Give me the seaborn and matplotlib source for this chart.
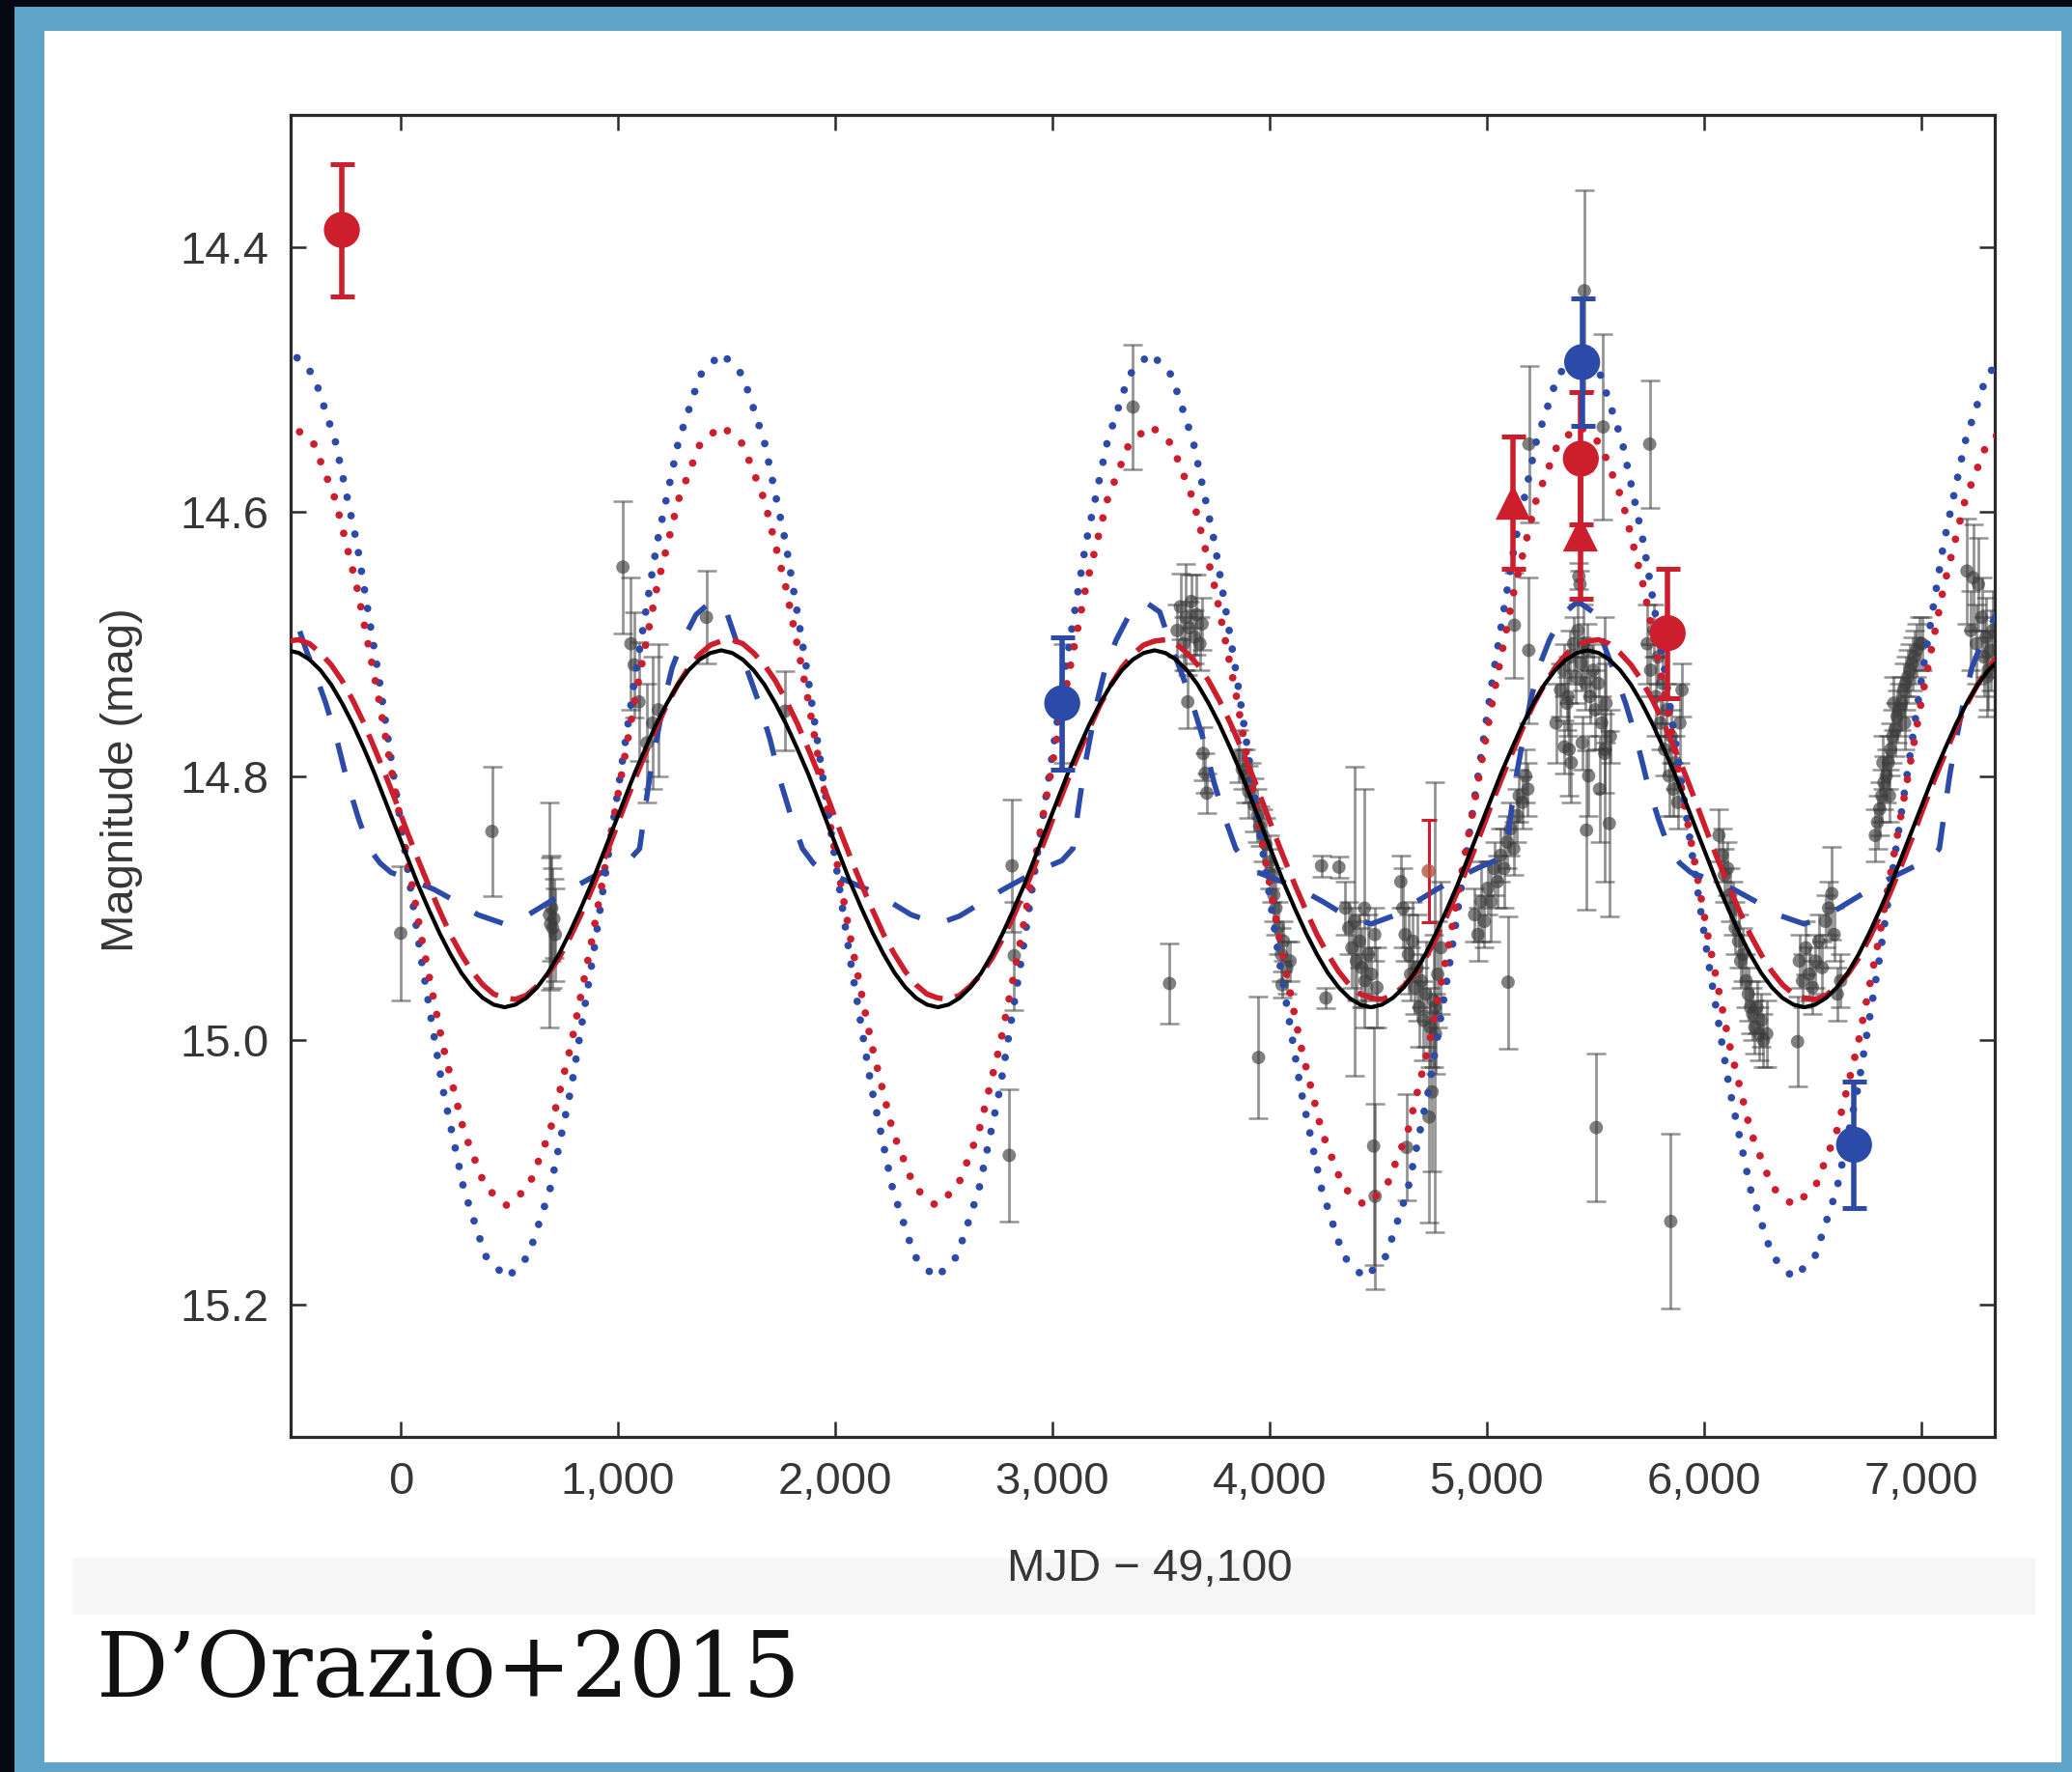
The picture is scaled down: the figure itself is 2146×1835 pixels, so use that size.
import matplotlib
matplotlib.use("Agg")
import matplotlib.pyplot as plt
from matplotlib.patches import Rectangle
import pandas as pd
import seaborn as sns

# ---------------- data ----------------
# sinusoidal fit (black solid) and red dashed model, main sampling days
sin_days = [-520, -420, -320, -220, -121, -21, 79, 179, 279, 378,
            478, 578, 678, 777, 877, 977, 1077, 1176, 1276, 1376,
            1476, 1575, 1675, 1775, 1875, 1974, 2074, 2174, 2274, 2373,
            2473, 2573, 2673, 2772, 2872, 2972, 3072, 3171, 3271, 3371,
            3471, 3570, 3670, 3770, 3870, 3969, 4069, 4169, 4269, 4368,
            4468, 4568, 4668, 4767, 4867, 4967, 5067, 5166, 5266, 5366,
            5466, 5565, 5665, 5765, 5865, 5964, 6064, 6164, 6264, 6363,
            6463, 6563, 6663, 6762, 6862, 6962, 7062, 7161, 7261, 7361]
black_fit = [14.705, 14.712, 14.731, 14.761, 14.798, 14.840, 14.882, 14.919, 14.949, 14.968,
             14.975, 14.968, 14.949, 14.919, 14.882, 14.840, 14.798, 14.761, 14.731, 14.712,
             14.705, 14.712, 14.731, 14.761, 14.798, 14.840, 14.882, 14.919, 14.949, 14.968,
             14.975, 14.968, 14.949, 14.919, 14.882, 14.840, 14.798, 14.761, 14.731, 14.712,
             14.705, 14.712, 14.731, 14.761, 14.798, 14.840, 14.882, 14.919, 14.949, 14.968,
             14.975, 14.968, 14.949, 14.919, 14.882, 14.840, 14.798, 14.761, 14.731, 14.712,
             14.705, 14.712, 14.731, 14.761, 14.798, 14.840, 14.882, 14.919, 14.949, 14.968,
             14.975, 14.968, 14.949, 14.919, 14.882, 14.840, 14.798, 14.761, 14.731, 14.712]
red_dashed = [14.698, 14.700, 14.716, 14.743, 14.779, 14.820, 14.863, 14.902, 14.935, 14.958,
              14.968, 14.966, 14.950, 14.923, 14.887, 14.846, 14.803, 14.764, 14.731, 14.708,
              14.698, 14.700, 14.716, 14.743, 14.779, 14.820, 14.863, 14.902, 14.935, 14.958,
              14.968, 14.966, 14.950, 14.923, 14.887, 14.846, 14.803, 14.764, 14.731, 14.708,
              14.698, 14.700, 14.716, 14.743, 14.779, 14.820, 14.863, 14.902, 14.935, 14.958,
              14.968, 14.966, 14.950, 14.923, 14.887, 14.846, 14.803, 14.764, 14.731, 14.708,
              14.698, 14.700, 14.716, 14.743, 14.779, 14.820, 14.863, 14.902, 14.935, 14.958,
              14.968, 14.966, 14.950, 14.923, 14.887, 14.846, 14.803, 14.764, 14.731, 14.708]
# extra readings between the main sampling days
sin_mid_days = [-469, -370, -270, -170, -71, 29, 129, 229, 329, 428,
                528, 628, 728, 827, 927, 1027, 1127, 1226, 1326, 1426,
                1526, 1625, 1725, 1825, 1925, 2024, 2124, 2224, 2324, 2423,
                2523, 2623, 2723, 2822, 2922, 3022, 3122, 3221, 3321, 3421,
                3521, 3620, 3720, 3820, 3920, 4019, 4119, 4219, 4319, 4418,
                4518, 4618, 4718, 4817, 4917, 5017, 5117, 5216, 5316, 5416,
                5516, 5615, 5715, 5815, 5915, 6014, 6114, 6214, 6314, 6413,
                6513, 6613, 6713, 6812, 6912, 7012, 7112, 7211, 7311, 7411]
black_fit_mid = [14.707, 14.720, 14.745, 14.779, 14.819, 14.861, 14.901, 14.935, 14.960, 14.973,
                 14.973, 14.960, 14.935, 14.901, 14.861, 14.819, 14.779, 14.745, 14.720, 14.707,
                 14.707, 14.720, 14.745, 14.779, 14.819, 14.861, 14.901, 14.935, 14.960, 14.973,
                 14.973, 14.960, 14.935, 14.901, 14.861, 14.819, 14.779, 14.745, 14.720, 14.707,
                 14.707, 14.720, 14.745, 14.779, 14.819, 14.861, 14.901, 14.935, 14.960, 14.973,
                 14.973, 14.960, 14.935, 14.901, 14.861, 14.819, 14.779, 14.745, 14.720, 14.707,
                 14.707, 14.720, 14.745, 14.779, 14.819, 14.861, 14.901, 14.935, 14.960, 14.973,
                 14.973, 14.960, 14.935, 14.901, 14.861, 14.819, 14.779, 14.745, 14.720, 14.707]
red_dashed_mid = [14.697, 14.707, 14.728, 14.760, 14.799, 14.842, 14.883, 14.920, 14.948, 14.965,
                  14.969, 14.959, 14.938, 14.906, 14.867, 14.824, 14.783, 14.746, 14.718, 14.701,
                  14.697, 14.707, 14.728, 14.760, 14.799, 14.842, 14.883, 14.920, 14.948, 14.965,
                  14.969, 14.959, 14.938, 14.906, 14.867, 14.824, 14.783, 14.746, 14.718, 14.701,
                  14.697, 14.707, 14.728, 14.760, 14.799, 14.842, 14.883, 14.920, 14.948, 14.965,
                  14.969, 14.959, 14.938, 14.906, 14.867, 14.824, 14.783, 14.746, 14.718, 14.701,
                  14.697, 14.707, 14.728, 14.760, 14.799, 14.842, 14.883, 14.920, 14.948, 14.965,
                  14.969, 14.959, 14.938, 14.906, 14.867, 14.824, 14.783, 14.746, 14.718, 14.701]

# blue dashed (hydro model)
blue_dash_days = [-635, -565, -495, -435, -395, -345, -295, -245, -195, -145, -95, -45, 55, 155, 255, 355,
                  478, 578, 678, 778, 878, 978, 1050, 1100, 1125, 1150, 1175, 1210, 1250, 1300, 1360,
                  1430, 1500, 1560, 1600, 1650, 1700, 1750, 1800, 1850, 1900, 1950, 2050, 2150, 2250, 2350,
                  2473, 2573, 2673, 2773, 2873, 2973, 3045, 3095, 3120, 3145, 3170, 3205, 3245, 3295, 3355,
                  3425, 3495, 3555, 3595, 3645, 3695, 3745, 3795, 3845, 3895, 3945, 4045, 4145, 4245, 4345,
                  4468, 4568, 4668, 4768, 4868, 4968, 5040, 5090, 5115, 5140, 5165, 5200, 5240, 5290, 5350,
                  5420, 5490, 5550, 5590, 5640, 5690, 5740, 5790, 5840, 5890, 5940, 6040, 6140, 6240, 6340,
                  6463, 6563, 6663, 6763, 6863, 6963, 7035, 7085, 7110, 7135, 7160, 7195, 7235, 7285, 7345,
                  7415]
blue_dashed = [14.678, 14.668, 14.676, 14.705, 14.722, 14.745, 14.772, 14.805, 14.832, 14.855, 14.866, 14.873, 14.879, 14.886, 14.895, 14.905,
               14.912, 14.906, 14.896, 14.886, 14.877, 14.869, 14.864, 14.855, 14.825, 14.797, 14.775, 14.745, 14.718, 14.697, 14.678,
               14.668, 14.676, 14.705, 14.722, 14.745, 14.772, 14.805, 14.832, 14.855, 14.866, 14.873, 14.879, 14.886, 14.895, 14.905,
               14.912, 14.906, 14.896, 14.886, 14.877, 14.869, 14.864, 14.855, 14.825, 14.797, 14.775, 14.745, 14.718, 14.697, 14.678,
               14.668, 14.676, 14.705, 14.722, 14.745, 14.772, 14.805, 14.832, 14.855, 14.866, 14.873, 14.879, 14.886, 14.895, 14.905,
               14.912, 14.906, 14.896, 14.886, 14.877, 14.869, 14.864, 14.855, 14.825, 14.797, 14.775, 14.745, 14.718, 14.697, 14.678,
               14.668, 14.676, 14.705, 14.722, 14.745, 14.772, 14.805, 14.832, 14.855, 14.866, 14.873, 14.879, 14.886, 14.895, 14.905,
               14.912, 14.906, 14.896, 14.886, 14.877, 14.869, 14.864, 14.855, 14.825, 14.797, 14.775, 14.745, 14.718, 14.697, 14.678,
               14.668]

# dotted Doppler-boost models
dot_days = [-597, -499, -400, -301, -202, -104, -5, 94, 193, 291, 390,
            489, 588, 687, 785, 884, 983, 1082, 1180, 1279, 1378, 1477, 1575, 1674, 1773, 1872, 1970, 2069, 2168, 2266, 2365,
            2464, 2563, 2662, 2760, 2859, 2958, 3057, 3155, 3254, 3353, 3452, 3550, 3649, 3748, 3847, 3945, 4044, 4143, 4241, 4340,
            4439, 4538, 4637, 4735, 4834, 4933, 5032, 5130, 5229, 5328, 5427, 5525, 5624, 5723, 5822, 5920, 6019, 6118, 6216, 6315,
            6414, 6513, 6612, 6710, 6809, 6908, 7007, 7105, 7204, 7303, 7402]
blue_dotted = [14.497, 14.480, 14.497, 14.547, 14.624, 14.722, 14.830, 14.938, 15.036, 15.113, 15.163,
               15.180, 15.163, 15.113, 15.036, 14.938, 14.830, 14.722, 14.624, 14.547, 14.497, 14.480, 14.497, 14.547, 14.624, 14.722, 14.830, 14.938, 15.036, 15.113, 15.163,
               15.180, 15.163, 15.113, 15.036, 14.938, 14.830, 14.722, 14.624, 14.547, 14.497, 14.480, 14.497, 14.547, 14.624, 14.722, 14.830, 14.938, 15.036, 15.113, 15.163,
               15.180, 15.163, 15.113, 15.036, 14.938, 14.830, 14.722, 14.624, 14.547, 14.497, 14.480, 14.497, 14.547, 14.624, 14.722, 14.830, 14.938, 15.036, 15.113, 15.163,
               15.180, 15.163, 15.113, 15.036, 14.938, 14.830, 14.722, 14.624, 14.547, 14.497, 14.480]
red_dotted = [14.549, 14.535, 14.549, 14.591, 14.657, 14.739, 14.830, 14.921, 15.003, 15.069, 15.111,
              15.125, 15.111, 15.069, 15.003, 14.921, 14.830, 14.739, 14.657, 14.591, 14.549, 14.535, 14.549, 14.591, 14.657, 14.739, 14.830, 14.921, 15.003, 15.069, 15.111,
              15.125, 15.111, 15.069, 15.003, 14.921, 14.830, 14.739, 14.657, 14.591, 14.549, 14.535, 14.549, 14.591, 14.657, 14.739, 14.830, 14.921, 15.003, 15.069, 15.111,
              15.125, 15.111, 15.069, 15.003, 14.921, 14.830, 14.739, 14.657, 14.591, 14.549, 14.535, 14.549, 14.591, 14.657, 14.739, 14.830, 14.921, 15.003, 15.069, 15.111,
              15.125, 15.111, 15.069, 15.003, 14.921, 14.830, 14.739, 14.657, 14.591, 14.549, 14.535]

# grey photometry
gray_days = [0, 420, 685, 690, 695, 700, 705, 712,
             1023, 1060, 1075, 1097, 1134, 1160, 1186, 1408, 1770,
             2802, 2815, 2825, 3050, 3372, 3540,
             3575, 3590, 3605, 3615, 3630, 3640, 3655, 3665, 3680, 3690, 3624, 3695, 3705, 3712,
             3860, 3875, 3890, 3905, 3915, 3930, 3945, 3955, 3970, 3985, 4000, 4010, 4020, 4030, 4040, 4055, 4065, 4080, 4095,
             3950, 4058, 4240, 4320, 4260,
             4350, 4365, 4380, 4393, 4400, 4415, 4425, 4438, 4440, 4455, 4470, 4485, 4495, 4480, 4487,
             4605, 4615, 4625, 4632, 4640, 4650, 4660, 4670, 4680, 4690, 4700, 4710, 4720, 4735, 4740, 4749, 4755, 4765, 4775, 4790, 4763,
             4945, 4960, 4975, 4990, 5005, 5020, 5035, 5050, 5065, 5080, 5095, 5110, 5125, 5140, 5150, 5165, 5180, 5190,
             5099, 5128, 5195, 5194,
             5380, 5358, 5375, 5425, 5430, 5450, 5460, 5505, 5537, 5545, 5565, 5544,
             5320, 5340, 5355, 5370, 5385, 5400, 5410, 5420, 5435, 5445, 5455, 5465, 5475, 5490, 5500, 5515, 5530, 5550, 5570,
             5390, 5470, 5520, 5440, 5751,
             5740, 5755, 5770, 5780, 5790, 5800, 5810, 5820, 5830, 5840, 5850, 5860, 5870, 5880, 5890, 5900, 5848,
             6070, 6085, 6095, 6110, 6120, 6135, 6145, 6160, 6170, 6180, 6195, 6205, 6215, 6225, 6235, 6245, 6255, 6265, 6275, 6290,
             6432, 6440, 6455, 6470, 6485, 6500, 6515, 6530, 6545, 6560, 6575, 6590, 6600, 6615, 6630,
             6790, 6800, 6810, 6820, 6830, 6840, 6850, 6860, 6870, 6880, 6890, 6900, 6910, 6920, 6930, 6940, 6950, 6960, 6970, 6980, 6995, 7005,
             6825, 6875, 6925, 6855,
             7212, 7240, 7265, 7230, 7255, 7280, 7290, 7300, 7310, 7320, 7330, 7305]
gray_mag = [14.919, 14.842, 14.905, 14.912, 14.900, 14.915, 14.908, 14.920,
            14.642, 14.700, 14.716, 14.744, 14.775, 14.760, 14.750, 14.680, 14.751,
            15.087, 14.868, 14.936, 14.745, 14.521, 14.957,
            14.690, 14.672, 14.700, 14.680, 14.688, 14.668, 14.695, 14.678, 14.700, 14.685, 14.744, 14.783, 14.798, 14.813,
            14.785, 14.795, 14.800, 14.812, 14.805, 14.822, 14.830, 14.838, 14.845, 14.852, 14.865, 14.875, 14.890, 14.900, 14.915, 14.935, 14.925, 14.945, 14.940,
            15.013, 14.958, 14.868, 14.869, 14.968,
            14.900, 14.915, 14.930, 14.910, 14.940, 14.925, 14.945, 14.900, 14.955, 14.935, 14.950, 14.920, 14.960, 15.080, 15.118,
            14.880, 14.900, 14.920, 15.081, 14.935, 14.950, 14.925, 14.960, 14.945, 14.975, 14.955, 14.985, 14.965, 15.058, 14.990, 15.039, 14.970, 14.995, 14.950, 14.930, 14.975,
            14.905, 14.920, 14.895, 14.910, 14.885, 14.895, 14.870, 14.880, 14.860, 14.870, 14.850, 14.840, 14.855, 14.830, 14.815, 14.820, 14.800, 14.810,
            14.956, 14.686, 14.549, 14.705,
            14.780, 14.778, 14.740, 14.649, 14.655, 14.433, 14.841, 15.066, 14.536, 14.780, 14.836, 14.783,
            14.760, 14.735, 14.720, 14.745, 14.710, 14.700, 14.725, 14.690, 14.715, 14.700, 14.730, 14.705, 14.740, 14.720, 14.750, 14.730, 14.760, 14.745, 14.770,
            14.790, 14.800, 14.810, 14.775, 14.549,
            14.700, 14.720, 14.690, 14.740, 14.710, 14.760, 14.730, 14.780, 14.750, 14.800, 14.770, 14.810, 14.790, 14.820, 14.760, 14.735, 15.137,
            14.845, 14.860, 14.875, 14.870, 14.890, 14.900, 14.915, 14.925, 14.940, 14.935, 14.955, 14.965, 14.975, 14.980, 14.990, 14.975, 14.995, 14.985, 15.000, 14.995,
            15.001, 14.940, 14.955, 14.930, 14.950, 14.960, 14.940, 14.925, 14.945, 14.910, 14.900, 14.889, 14.920, 14.965, 14.955,
            14.845, 14.835, 14.825, 14.815, 14.805, 14.800, 14.790, 14.780, 14.770, 14.765, 14.755, 14.750, 14.745, 14.735, 14.730, 14.725, 14.720, 14.715, 14.710, 14.705, 14.700, 14.700,
            14.790, 14.745, 14.760, 14.815,
            14.645, 14.650, 14.655, 14.690, 14.700, 14.680, 14.710, 14.695, 14.720, 14.705, 14.690, 14.725]
gray_err = [0.051, 0.049, 0.085, 0.050, 0.040, 0.045, 0.030, 0.035,
            0.050, 0.050, 0.040, 0.045, 0.045, 0.050, 0.050, 0.035, 0.030,
            0.050, 0.050, 0.041, 0.045, 0.047, 0.030,
            0.020, 0.025, 0.020, 0.040, 0.020, 0.020, 0.020, 0.030, 0.020, 0.020, 0.020, 0.020, 0.015, 0.015,
            0.020, 0.015, 0.020, 0.020, 0.015, 0.020, 0.020, 0.015, 0.020, 0.020, 0.020, 0.020, 0.020, 0.020, 0.020, 0.020, 0.015, 0.020, 0.015,
            0.046, 0.010, 0.008, 0.008, 0.008,
            0.020, 0.020, 0.030, 0.117, 0.030, 0.020, 0.030, 0.090, 0.020, 0.030, 0.020, 0.020, 0.030, 0.090, 0.070,
            0.020, 0.030, 0.020, 0.040, 0.030, 0.020, 0.030, 0.020, 0.040, 0.030, 0.020, 0.030, 0.040, 0.080, 0.030, 0.060, 0.050, 0.030, 0.040, 0.050, 0.170,
            0.020, 0.020, 0.030, 0.020, 0.020, 0.030, 0.020, 0.020, 0.020, 0.030, 0.020, 0.020, 0.020, 0.020, 0.020, 0.020, 0.020, 0.020,
            0.050, 0.040, 0.059, 0.055,
            0.035, 0.020, 0.030, 0.010, 0.010, 0.076, 0.060, 0.056, 0.070, 0.100, 0.070, 0.030,
            0.030, 0.020, 0.020, 0.020, 0.020, 0.020, 0.020, 0.020, 0.020, 0.030, 0.020, 0.020, 0.020, 0.020, 0.030, 0.020, 0.020, 0.030, 0.020,
            0.030, 0.030, 0.040, 0.020, 0.048,
            0.030, 0.020, 0.020, 0.030, 0.020, 0.020, 0.030, 0.020, 0.020, 0.030, 0.020, 0.020, 0.020, 0.020, 0.030, 0.020, 0.066,
            0.020, 0.020, 0.020, 0.020, 0.020, 0.020, 0.020, 0.020, 0.020, 0.020, 0.020, 0.020, 0.020, 0.020, 0.020, 0.020, 0.020, 0.020, 0.020, 0.025,
            0.034, 0.020, 0.020, 0.020, 0.020, 0.020, 0.020, 0.020, 0.020, 0.020, 0.020, 0.035, 0.020, 0.020, 0.020,
            0.020, 0.020, 0.020, 0.020, 0.020, 0.020, 0.020, 0.020, 0.020, 0.020, 0.020, 0.020, 0.020, 0.020, 0.020, 0.020, 0.020, 0.020, 0.020, 0.020, 0.020, 0.020,
            0.020, 0.020, 0.020, 0.020,
            0.040, 0.040, 0.035, 0.030, 0.030, 0.030, 0.030, 0.030, 0.030, 0.030, 0.030, 0.030]

# highlighted measurements
red_circ_days = [-271, 5434, 5834]
red_circ_mag = [14.387, 14.560, 14.692]
red_circ_err = [0.050, 0.050, 0.049]
red_tri_days = [5122, 5432]
red_tri_mag = [14.593, 14.617]
red_tri_err = [0.050, 0.049]
blue_circ_days = [3046, 5440, 6692]
blue_circ_mag = [14.745, 14.487, 15.079]
blue_circ_err = [0.050, 0.048, 0.048]
red_small_days = [4733]
red_small_mag = [14.872]
red_small_err = [0.039]

x_ticks = [0, 1000, 2000, 3000, 4000, 5000, 6000, 7000]
x_tick_labels = ["0", "1,000", "2,000", "3,000", "4,000", "5,000", "6,000", "7,000"]
y_ticks = [14.4, 14.6, 14.8, 15.0, 15.2]
y_tick_labels = ["14.4", "14.6", "14.8", "15.0", "15.2"]

# ---------------- styling ----------------
sns.set_theme(style="ticks")
plt.rcParams["font.family"] = ["Liberation Sans", "DejaVu Sans"]

RED = "#cc1e2d"
BLUE = "#2c4aa8"
GRAY = "#3c3c3c"

W, H = 2146, 1835
fig = plt.figure(figsize=(W / 100, H / 100), dpi=100)
fig.patch.set_facecolor("#5fa3c9")


def px_rect(x0, y0, x1, y1, color, z):
    fig.add_artist(Rectangle((x0 / W, 1 - y1 / H), (x1 - x0) / W, (y1 - y0) / H,
                             transform=fig.transFigure, facecolor=color,
                             edgecolor="none", zorder=z))


px_rect(0, 0, W, 7, "#040914", -5)
px_rect(0, 0, 15, H, "#040914", -5)
px_rect(46, 32, 2135, 1825, "white", -4)
px_rect(75, 1613, 2108, 1672, "#f6f6f6", -3)

ax = fig.add_axes([301 / W, 1 - 1488 / H, (2066 - 301) / W, (1488 - 119) / H])
ax.set_facecolor("white")

# grey photometry
gray_df = pd.DataFrame({"day": gray_days, "mag": gray_mag, "err": gray_err})
ax.errorbar(gray_df["day"], gray_df["mag"], yerr=gray_df["err"], fmt="none",
            ecolor=GRAY, alpha=0.55, elinewidth=2.0, capsize=7, capthick=1.8, zorder=2)
sns.scatterplot(data=gray_df, x="day", y="mag", color=GRAY, alpha=0.65, s=100,
                edgecolor="none", linewidth=0, ax=ax, zorder=2, legend=False)

# model curves
sin_df = pd.concat([
    pd.DataFrame({"day": sin_days, "black": black_fit, "red": red_dashed}),
    pd.DataFrame({"day": sin_mid_days, "black": black_fit_mid, "red": red_dashed_mid}),
]).sort_values("day")
bd_df = pd.DataFrame({"day": blue_dash_days, "mag": blue_dashed})
dot_df = pd.DataFrame({"day": dot_days, "blue": blue_dotted, "red": red_dotted})

n0 = len(ax.lines)
sns.lineplot(data=dot_df, x="day", y="blue", color=BLUE, lw=5.6,
             linestyle=(0, (0.01, 2.5)), ax=ax, zorder=3,
             estimator=None, sort=False)
sns.lineplot(data=dot_df, x="day", y="red", color=RED, lw=5.6,
             linestyle=(0, (0.01, 2.5)), ax=ax, zorder=3,
             estimator=None, sort=False)
for ln in ax.lines[n0:]:
    ln.set_dash_capstyle("round")
sns.lineplot(data=bd_df, x="day", y="mag", color=BLUE, lw=4.0,
             linestyle=(0, (5.6, 5.4)), ax=ax, zorder=3, estimator=None, sort=False)
sns.lineplot(data=sin_df, x="day", y="red", color=RED, lw=4.0,
             linestyle=(0, (5.8, 2.4)), ax=ax, zorder=3, estimator=None, sort=False)
sns.lineplot(data=sin_df, x="day", y="black", color="black", lw=3.0,
             linestyle="-", ax=ax, zorder=3.5, estimator=None, sort=False)

# highlighted measurements
rc = pd.DataFrame({"day": red_circ_days, "mag": red_circ_mag, "err": red_circ_err})
rt = pd.DataFrame({"day": red_tri_days, "mag": red_tri_mag, "err": red_tri_err})
bc = pd.DataFrame({"day": blue_circ_days, "mag": blue_circ_mag, "err": blue_circ_err})
rs = pd.DataFrame({"day": red_small_days, "mag": red_small_mag, "err": red_small_err})

ax.errorbar(rs["day"], rs["mag"], yerr=rs["err"], fmt="none", ecolor=RED,
            elinewidth=2.2, capsize=6, capthick=2.2, zorder=4)
sns.scatterplot(data=rs, x="day", y="mag", color="#b5553e", alpha=0.8, s=110,
                edgecolor="none", linewidth=0, ax=ax, zorder=4, legend=False)

for df, col, mk, sz in [(rc, RED, "o", 720), (rt, RED, "^", 680), (bc, BLUE, "o", 720)]:
    ax.errorbar(df["day"], df["mag"], yerr=df["err"], fmt="none", ecolor=col,
                elinewidth=4.0, capsize=9, capthick=3.6, zorder=5)
    sns.scatterplot(data=df, x="day", y="mag", color=col, marker=mk, s=sz,
                    edgecolor="none", linewidth=0, ax=ax, zorder=5, legend=False)

# axes
ax.set_xlim(-507, 7340)
ax.set_ylim(15.30, 14.30)
ax.set_xticks(x_ticks, x_tick_labels)
ax.set_yticks(y_ticks, y_tick_labels)
ax.tick_params(axis="both", which="major", direction="in", top=True, right=True,
               length=11.5, width=1.8, color="#2a2a2a", labelsize=34,
               labelcolor="#363636")
ax.tick_params(axis="x", pad=18)
ax.tick_params(axis="y", pad=16)
for sp in ax.spines.values():
    sp.set_visible(True)
    sp.set_linewidth(2.3)
    sp.set_color("#2a2a2a")

ax.set_xlabel("MJD \u2212 49,100", fontsize=34, color="#363636")
ax.set_ylabel("Magnitude (mag)", fontsize=34, color="#363636")
ax.xaxis.set_label_coords(0.504, -0.1)
ax.xaxis.label.set_verticalalignment("center")
ax.yaxis.set_label_coords(-0.0992, 0.497)
ax.yaxis.label.set_verticalalignment("center")

fig.text(100 / W, 1 - 1757 / H, "D\u2019Orazio+2015", fontsize=67,
         family=["DejaVu Serif"], color="#111111", ha="left", va="baseline")

fig.savefig("out.png", dpi=100, facecolor=fig.get_facecolor())
